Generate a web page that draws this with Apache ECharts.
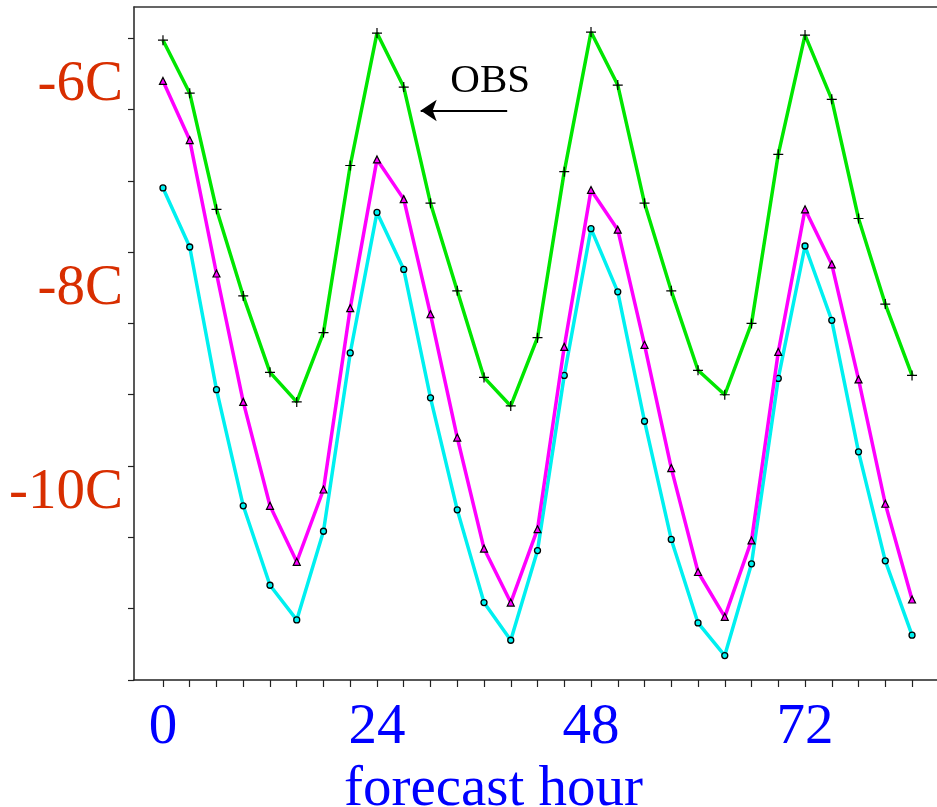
<!DOCTYPE html>
<html>
<head>
<meta charset="utf-8">
<script src="https://cdn.jsdelivr.net/npm/echarts@6/dist/echarts.min.js"></script>
<style>
html,body{margin:0;padding:0;background:#fff;}
#chart{width:937px;height:807px;}
</style>
</head>
<body>
<div id="chart"></div>
<script>
// forecast hours (every 3 h)
var hours = [0,3,6,9,12,15,18,21,24,27,30,33,36,39,42,45,48,51,54,57,60,63,66,69,72,75,78,81,84];
// OBS (green, plus markers)
var obs = [-5.56,-6.08,-7.22,-8.07,-8.82,-9.11,-8.43,-6.79,-5.49,-6.02,-7.16,-8.02,-8.87,-9.15,-8.48,-6.85,-5.48,-6.00,-7.16,-8.02,-8.80,-9.04,-8.34,-6.68,-5.51,-6.14,-7.31,-8.15,-8.85];
// magenta, triangle markers
var fcstA = [-5.96,-6.54,-7.85,-9.11,-10.13,-10.68,-9.97,-8.19,-6.73,-7.12,-8.25,-9.46,-10.55,-11.08,-10.36,-8.57,-7.03,-7.42,-8.55,-9.76,-10.78,-11.22,-10.47,-8.62,-7.22,-7.76,-8.89,-10.11,-11.05];
// cyan, circle markers
var fcstB = [-7.01,-7.59,-8.99,-10.13,-10.91,-11.25,-10.38,-8.63,-7.25,-7.81,-9.07,-10.17,-11.08,-11.45,-10.57,-8.85,-7.41,-8.03,-9.30,-10.46,-11.28,-11.60,-10.70,-8.88,-7.58,-8.31,-9.60,-10.67,-11.40];
// axis labels
var xLabelValues = [0,24,48,72];
var yLabelValues = [-6,-8,-10];
var yTickValues = [-11.84,-11.14,-10.44,-9.74,-9.04,-8.34,-7.64,-6.94,-6.24,-5.54];
var xTickValues = hours;
var xTitle = 'forecast hour';
var obsText = 'OBS';

function pairs(vals){ return hours.map(function(h,i){ return [h, vals[i]]; }); }

var serif = '"Liberation Serif","Times New Roman",serif';
var plusPath = 'path://M4.4,0h1.2v4.4h4.4v1.2h-4.4v4.4h-1.2v-4.4h-4.4v-1.2h4.4z';

var chart = echarts.init(document.getElementById('chart'), null, {renderer:'canvas'});
chart.setOption({
  backgroundColor:'#ffffff',
  animation:false,
  grid:{left:134, right:0, top:7, bottom:127, containLabel:false, outerBoundsMode:'none'},
  xAxis:[{
    type:'value', min:-3.25, max:86.8,
    axisLine:{show:true, onZero:false, lineStyle:{color:'#222', width:1.5}},
    axisTick:{show:true, inside:false, length:7, customValues:xTickValues, lineStyle:{color:'#222', width:1.2}},
    axisLabel:{show:true, customValues:xLabelValues, color:'#0000FF', fontFamily:serif, fontSize:57, margin:20},
    splitLine:{show:false},
    name:xTitle, nameLocation:'middle', nameGap:75,
    nameTextStyle:{color:'#0000FF', fontFamily:serif, fontSize:57, padding:[0,84,0,0]}
  },{
    type:'value', position:'top', min:-3.25, max:86.8,
    axisLine:{show:true, onZero:false, lineStyle:{color:'#333', width:1.5}},
    axisTick:{show:false}, axisLabel:{show:false}, splitLine:{show:false}
  }],
  yAxis:{
    type:'value', min:-11.84, max:-5.234,
    axisLine:{show:true, onZero:false, lineStyle:{color:'#222', width:1.5}},
    axisTick:{show:true, length:6, customValues:yTickValues, lineStyle:{color:'#222', width:1.2}},
    axisLabel:{show:true, customValues:yLabelValues, color:'#D82E00', fontFamily:serif, fontSize:57, margin:11,
      formatter:function(v){ return v + 'C'; }},
    splitLine:{show:false}
  },
  series:[{
    type:'line', data:pairs(fcstB), z:3,
    lineStyle:{color:'#00F0F0', width:3.5},
    symbol:'circle', symbolSize:6,
    itemStyle:{color:'#00F0F0', borderColor:'#000', borderWidth:1.3}
  },{
    type:'line', data:pairs(fcstA), z:4,
    lineStyle:{color:'#FF00FF', width:3.5},
    symbol:'triangle', symbolSize:7,
    itemStyle:{color:'#FF00FF', borderColor:'#000', borderWidth:1.2}
  },{
    type:'line', data:pairs(obs), z:5,
    lineStyle:{color:'#00E600', width:3.5},
    symbol:plusPath, symbolSize:10,
    itemStyle:{color:'#000'},
    markLine:{
      silent:true, symbol:['none','arrow'], symbolSize:16,
      label:{show:false},
      lineStyle:{color:'#000', width:2, type:'solid'},
      data:[[{coord:[38.6,-6.25]},{coord:[28.9,-6.25]}]]
    },
    markPoint:{
      silent:true, symbol:'rect', symbolSize:1, itemStyle:{color:'rgba(0,0,0,0)'},
      label:{show:true, position:'inside', formatter:obsText, color:'#000', fontFamily:serif, fontSize:41},
      data:[{coord:[36.7,-5.96]}]
    }
  }]
});
</script>
</body>
</html>
